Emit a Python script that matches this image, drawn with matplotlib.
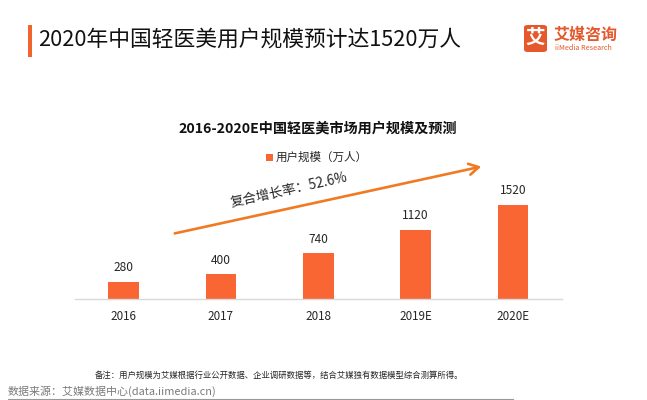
import matplotlib
matplotlib.use("Agg")
import matplotlib.pyplot as plt
from matplotlib.patches import FancyArrowPatch, FancyBboxPatch, Rectangle

plt.rcParams['font.family'] = ['Noto Sans CJK SC', 'DejaVu Sans']

categories = ["2016", "2017", "2018", "2019E", "2020E"]
users = [280, 400, 740, 1120, 1520]
series_name = "用户规模（万人）"
main_title = "2020年中国轻医美用户规模预计达1520万人"
chart_title = "2016-2020E中国轻医美市场用户规模及预测"
cagr_text = "复合增长率：52.6%"
note_text = "备注：用户规模为艾媒根据行业公开数据、企业调研数据等，结合艾媒独有数据模型综合测算所得。"
source_text = "数据来源：艾媒数据中心(data.iimedia.cn)"

W, H = 647, 400
fig = plt.figure(figsize=(W / 100, H / 100), dpi=100)
fig.patch.set_facecolor("white")

def fx(x):
    return x / W

def fy(y):
    return 1 - y / H

bar_color = "#F96633"
arrow_color = "#F07A22"

# axes: x from 75 to 561.5 px, baseline at 299 px
ax_left, ax_right = 75, 561.5
ax_bottom, ax_top = 299, 155
ax = fig.add_axes([fx(ax_left), fy(ax_bottom), (ax_right - ax_left) / W, (ax_bottom - ax_top) / H])
x = list(range(len(categories)))
bars = ax.bar(x, users, width=0.315, color=bar_color, zorder=2)
ax.set_xlim(-0.5, 4.5)
ax.set_ylim(0, 1520 * 144 / 94)
for s in ["top", "left", "right"]:
    ax.spines[s].set_visible(False)
ax.spines["bottom"].set_color("#D9D9D9")
ax.spines["bottom"].set_linewidth(1.0)
ax.set_yticks([])
ax.set_xticks(x)
ax.set_xticklabels(categories, fontsize=8.4, color="#262626")
ax.tick_params(axis="x", length=0, pad=8)
for xi, v in zip(x, users):
    ax.annotate(str(v), (xi, v), xytext=(0, 5.5), textcoords="offset points",
                ha="center", va="bottom", fontsize=8.6, color="#262626")
ax.patch.set_alpha(0)

# main title with orange marker bar
fig.add_artist(Rectangle((fx(28), fy(57)), 4 / W, 32 / H, transform=fig.transFigure,
                         color="#F0642D", lw=0))
fig.text(fx(38), fy(40), main_title, fontsize=15.7, fontweight="medium", color="#111111",
         ha="left", va="center")

# logo
fig.add_artist(FancyBboxPatch((fx(524), fy(52)), 23 / W, 27 / H,
                              boxstyle="round,pad=0,rounding_size=0.006",
                              transform=fig.transFigure, color="#E4582B", lw=0))
fig.text(fx(535.5), fy(38.5), "艾", fontsize=14, fontweight="bold", color="white",
         ha="center", va="center")
fig.text(fx(554), fy(34.5), "艾媒咨询", fontsize=11.5, fontweight="bold", color="#E4582B",
         ha="left", va="center")
fig.text(fx(555), fy(47.5), "iiMedia Research", fontsize=5.2, color="#E4582B",
         ha="left", va="center")

# chart title and legend
fig.text(fx(318), fy(129), chart_title, fontsize=10.2, fontweight="bold", color="#111111",
         ha="center", va="center")
fig.add_artist(Rectangle((fx(266), fy(161)), 7 / W, 7 / H, transform=fig.transFigure,
                         color=bar_color, lw=0))
fig.text(fx(276), fy(157), series_name, fontsize=8.3, color="#262626", ha="left", va="center")

# growth arrow
arr = FancyArrowPatch((fx(172), fy(234)), (fx(484), fy(166)), transform=fig.transFigure,
                      arrowstyle="->,head_length=7,head_width=4", color=arrow_color,
                      lw=1.9, mutation_scale=1)
fig.add_artist(arr)
fig.text(fx(289), fy(190), cagr_text, fontsize=9.7, color="#262626", rotation=12.5,
         ha="center", va="center", rotation_mode="anchor")

# footer
fig.text(fx(279), fy(375), note_text, fontsize=6, color="#262626", ha="center", va="center")
fig.text(fx(8), fy(391), source_text, fontsize=7.9, color="#7a7a7a", ha="left", va="center")
fig.add_artist(plt.Line2D([fx(8), fx(513)], [fy(399), fy(399)], transform=fig.transFigure,
                          color="#999999", lw=0.8))

fig.savefig("out.png", dpi=100)
